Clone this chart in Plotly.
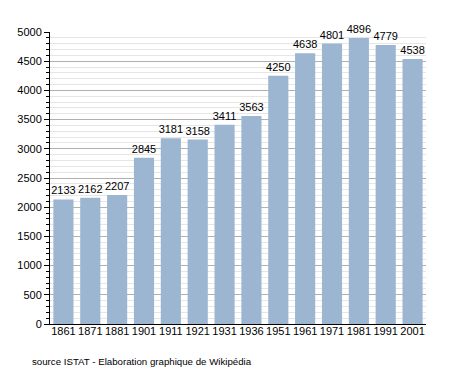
import plotly.graph_objects as go

years = ["1861", "1871", "1881", "1901", "1911", "1921", "1931", "1936", "1951", "1961", "1971", "1981", "1991", "2001"]
population = [2133, 2162, 2207, 2845, 3181, 3158, 3411, 3563, 4250, 4638, 4801, 4896, 4779, 4538]
y_ticks = [0, 500, 1000, 1500, 2000, 2500, 3000, 3500, 4000, 4500, 5000]
caption = "source ISTAT - Elaboration graphique de Wikipédia"

fig = go.Figure(go.Bar(
    x=years, y=population,
    text=[str(v) for v in population],
    textposition="outside",
    constraintext="none",
    textfont=dict(family="Liberation Sans, Arial", size=11, color="#000"),
    marker=dict(color="#9cb5d1", line=dict(width=0)),
    cliponaxis=False,
))

fig.update_layout(
    width=447, height=365,
    margin=dict(l=42, r=29, t=24, b=49, autoexpand=False),
    paper_bgcolor="white", plot_bgcolor="white",
    bargap=0.25,
    showlegend=False,
    font=dict(family="Liberation Sans, Arial", size=11, color="#000"),
    annotations=[dict(text=caption, xref="paper", yref="paper", x=-0.053, y=-0.13,
                      xanchor="left", yanchor="middle", showarrow=False,
                      font=dict(size=9.7, family="Liberation Sans, Arial", color="#000"))],
)
fig.update_xaxes(
    type="category", showline=True, linecolor="#000", linewidth=1,
    ticks="", showgrid=False, tickfont=dict(size=11), automargin=False,
    ticklabelstandoff=-3,
)
fig.update_yaxes(
    range=[0, 5000], tickvals=y_ticks, showline=True, linecolor="#000", linewidth=1,
    ticks="outside", ticklen=5, tickcolor="#000",
    showgrid=True, gridcolor="#b0b0b0", gridwidth=1,
    minor=dict(dtick=100, showgrid=True, gridcolor="#e6e6e6", ticks="outside", ticklen=3, tickcolor="#000"),
    zeroline=False, tickfont=dict(size=11), automargin=False,
)

fig.write_html("out.html")
